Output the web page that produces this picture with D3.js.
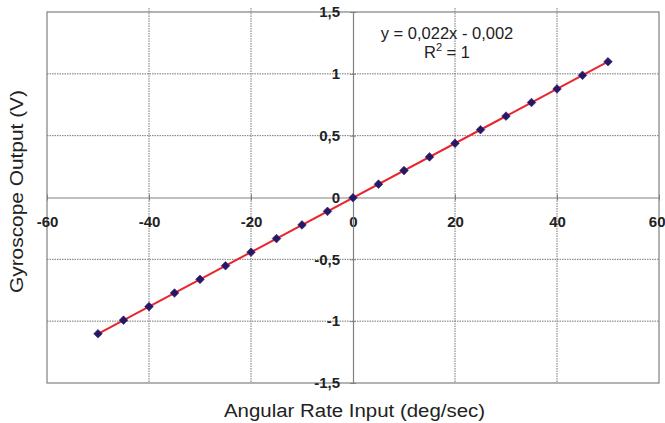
<!DOCTYPE html>
<html><head><meta charset="utf-8">
<script src="https://cdn.jsdelivr.net/npm/d3@7"></script>
<style>body{margin:0;background:#fff}svg{display:block}text{font-family:Arial,"Liberation Sans",sans-serif}</style>
</head><body>
<script>
const rateInput = [-50,-45,-40,-35,-30,-25,-20,-15,-10,-5,0,5,10,15,20,25,30,35,40,45,50];
const gyroOutput = [-1.102,-0.992,-0.882,-0.772,-0.662,-0.552,-0.442,-0.332,-0.222,-0.112,-0.002,0.108,0.218,0.328,0.438,0.548,0.658,0.768,0.878,0.988,1.098];
const trendX = [-50, 50];
const trendY = [-1.102, 1.098];
const xTicks = [-60,-40,-20,0,20,40,60];
const yTicks = [-1.5,-1,-0.5,0,0.5,1,1.5];
const fmt = d => String(d).replace('.', ',');

const W = 665, H = 423;
const svg = d3.select('body').append('svg').attr('width', W).attr('height', H);
const x = d3.scaleLinear().domain([-60, 60]).range([47, 659]);
const y = d3.scaleLinear().domain([-1.5, 1.5]).range([383, 12]);

// grid
const g = svg.append('g');
xTicks.filter(t => t !== 0 && Math.abs(t) !== 60).forEach(t => {
  g.append('line').attr('x1', x(t)).attr('x2', x(t)).attr('y1', y(1.5)-4).attr('y2', y(-1.5))
    .attr('stroke', '#777').attr('stroke-width', 1).attr('stroke-dasharray', '1.5,1');
});
yTicks.filter(t => t !== 0 && Math.abs(t) !== 1.5).forEach(t => {
  g.append('line').attr('x1', x(-60)).attr('x2', x(60)).attr('y1', y(t)).attr('y2', y(t))
    .attr('stroke', '#777').attr('stroke-width', 1).attr('stroke-dasharray', '1.5,1');
});
// border
svg.append('rect').attr('x', x(-60)).attr('y', y(1.5)).attr('width', x(60)-x(-60)).attr('height', y(-1.5)-y(1.5))
  .attr('fill', 'none').attr('stroke', '#808080').attr('stroke-width', 1.2);

// axes through origin
const xAxis = d3.axisBottom(x).tickValues(xTicks).tickSize(0).tickFormat(fmt);
const xa = svg.append('g').attr('transform', `translate(0,${y(0)})`).call(xAxis);
xa.select('.domain').attr('stroke', '#808080').attr('stroke-width', 1.2);
xa.selectAll('text').attr('font-size', 15).attr('font-weight', 'bold').attr('fill', '#222')
  .attr('y', 0).attr('dy', 29.5);
xa.selectAll('text').filter(d => d === 60).attr('text-anchor', 'end').attr('x', 6);
xa.selectAll('.tick').append('line').attr('y1', -3).attr('y2', 3).attr('stroke', '#808080');

const yAxis = d3.axisLeft(y).tickValues(yTicks).tickSize(0).tickFormat(fmt);
const ya = svg.append('g').attr('transform', `translate(${x(0)},0)`).call(yAxis);
ya.select('.domain').attr('stroke', '#808080').attr('stroke-width', 1.2);
ya.selectAll('text').attr('font-size', 15).attr('font-weight', 'bold').attr('fill', '#222').attr('x', -13);
ya.selectAll('.tick').append('line').attr('x1', -3).attr('x2', 3).attr('stroke', '#808080');

// trendline
svg.append('path').datum(trendX.map((d,i)=>[d, trendY[i]]))
  .attr('d', d3.line().x(d=>x(d[0])).y(d=>y(d[1])))
  .attr('stroke', '#e8262e').attr('stroke-width', 2).attr('fill', 'none');

// markers
svg.append('g').selectAll('path').data(rateInput).join('path')
  .attr('d', d3.symbol().type(d3.symbolDiamond2).size(48))
  .attr('transform', (d,i) => `translate(${x(d)},${y(gyroOutput[i])})`)
  .attr('fill', '#221a66').attr('stroke', '#4a1a6a').attr('stroke-width', 0.6);

// equation
const eq = svg.append('text').attr('x', 447).attr('y', 39).attr('text-anchor','middle').attr('font-size', 16.5).attr('fill','#222');
eq.text('y = 0,022x - 0,002');
const r2 = svg.append('text').attr('x', 447).attr('y', 58).attr('text-anchor','middle').attr('font-size', 16.5).attr('fill','#222');
r2.append('tspan').text('R');
r2.append('tspan').attr('font-size', 11).attr('dy', -7).text('2');
r2.append('tspan').attr('dy', 7).text(' = 1');

// axis titles
svg.append('text').attr('x', 354.5).attr('y', 417).attr('text-anchor','middle').attr('font-size', 18).attr('fill','#222')
  .attr('textLength', 261).attr('lengthAdjust', 'spacingAndGlyphs')
  .text('Angular Rate Input (deg/sec)');
svg.append('text').attr('transform', `translate(23,191.5) rotate(-90)`).attr('text-anchor','middle').attr('font-size', 18).attr('fill','#222')
  .attr('textLength', 203).attr('lengthAdjust', 'spacingAndGlyphs')
  .text('Gyroscope Output (V)');
</script>
</body></html>
